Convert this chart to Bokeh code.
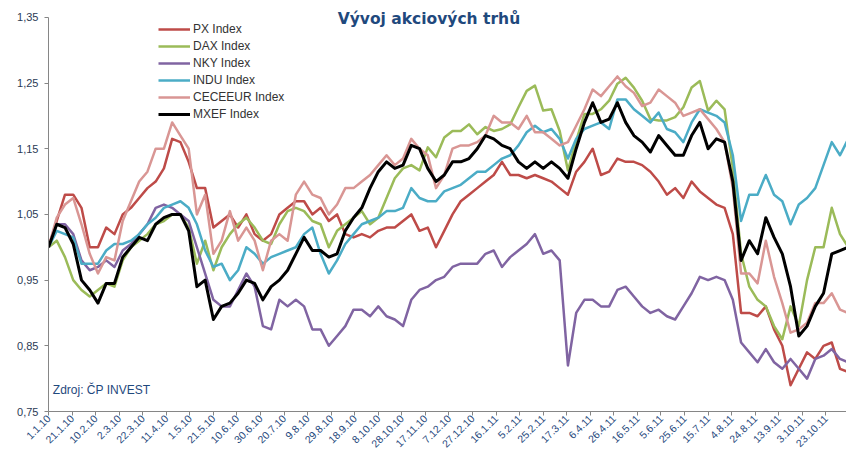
from datetime import date
from math import pi
from bokeh.plotting import figure
from bokeh.models import (FixedTicker, CustomJSTickFormatter, Legend, LegendItem,
                          Label, Range1d)
from bokeh.embed import file_html
from bokeh.resources import INLINE

# ---------------- data (weekly samples, start = 1.1.2010) ----------------
start = date(2010, 1, 1)
sample_step_days = 7

px = [1.00, 1.04, 1.08, 1.08, 1.06, 1.00, 1.00, 1.03, 1.02, 1.05,
      1.06, 1.075, 1.09, 1.10, 1.12, 1.165, 1.16, 1.13, 1.09, 1.09,
      1.03, 1.04, 1.05, 1.03, 1.05, 1.02, 1.01, 1.02, 1.05, 1.06,
      1.07, 1.07, 1.05, 1.06, 1.04, 1.05, 1.02, 1.015, 1.02, 1.015,
      1.025, 1.03, 1.03, 1.04, 1.05, 1.025, 1.03, 1.00, 1.025, 1.05,
      1.07, 1.08, 1.09, 1.10, 1.11, 1.13, 1.11, 1.11, 1.105, 1.11,
      1.105, 1.10, 1.09, 1.08, 1.115, 1.13, 1.15, 1.11, 1.115, 1.135,
      1.13, 1.13, 1.125, 1.115, 1.10, 1.08, 1.09, 1.075, 1.10, 1.085,
      1.075, 1.065, 1.06, 1.02, 0.90, 0.90, 0.895, 0.91, 0.875, 0.85,
      0.79, 0.815, 0.84, 0.83, 0.85, 0.855, 0.815, 0.81]

dax = [1.00, 1.01, 0.985, 0.95, 0.935, 0.925, 0.935, 0.945, 0.94, 0.98,
       1.00, 1.01, 1.02, 1.035, 1.04, 1.05, 1.05, 1.03, 0.975, 1.01,
       0.965, 1.00, 1.02, 1.035, 1.045, 1.03, 1.01, 1.005, 1.035, 1.055,
       1.06, 1.055, 1.04, 1.035, 1.00, 1.025, 1.035, 1.045, 1.055, 1.035,
       1.045, 1.075, 1.105, 1.12, 1.125, 1.117, 1.152, 1.137, 1.167, 1.177,
       1.177, 1.187, 1.172, 1.183, 1.177, 1.18, 1.187, 1.213, 1.238, 1.246,
       1.208, 1.21, 1.177, 1.117, 1.162, 1.203, 1.203, 1.21, 1.223, 1.249,
       1.258, 1.243, 1.223, 1.195, 1.193, 1.193, 1.198, 1.213, 1.243, 1.253,
       1.208, 1.223, 1.21, 1.12, 0.99, 0.94, 0.92, 0.91, 0.88, 0.86,
       0.91, 0.88, 0.95, 1.00, 1.00, 1.06, 1.02, 1.00]

nky = [1.00, 1.035, 1.035, 1.02, 0.98, 0.965, 0.97, 0.98, 0.97, 0.995,
       1.005, 1.02, 1.035, 1.06, 1.065, 1.06, 1.05, 1.04, 1.00, 0.96,
       0.92, 0.91, 0.91, 0.935, 0.96, 0.94, 0.88, 0.875, 0.92, 0.91,
       0.92, 0.91, 0.875, 0.875, 0.85, 0.865, 0.88, 0.905, 0.905, 0.895,
       0.91, 0.895, 0.89, 0.88, 0.92, 0.935, 0.94, 0.95, 0.955, 0.97,
       0.975, 0.975, 0.975, 0.99, 0.995, 0.97, 0.985, 0.995, 1.005, 1.02,
       0.99, 0.995, 0.98, 0.82, 0.90, 0.92, 0.92, 0.91, 0.91, 0.935,
       0.94, 0.925, 0.91, 0.90, 0.905, 0.895, 0.89, 0.91, 0.93, 0.955,
       0.95, 0.955, 0.95, 0.92, 0.855, 0.84, 0.825, 0.845, 0.825, 0.815,
       0.83, 0.815, 0.80, 0.83, 0.835, 0.845, 0.83, 0.825]

indu = [1.00, 1.025, 1.02, 1.015, 0.975, 0.975, 0.975, 0.995, 1.005, 1.005,
        1.01, 1.02, 1.035, 1.045, 1.06, 1.065, 1.07, 1.06, 1.035, 0.995,
        0.97, 0.975, 0.95, 0.965, 1.00, 0.99, 0.975, 0.985, 0.99, 0.995,
        1.00, 1.02, 1.03, 0.99, 0.96, 0.98, 1.005, 1.02, 1.035, 1.04,
        1.045, 1.055, 1.055, 1.06, 1.09, 1.075, 1.07, 1.07, 1.085, 1.09,
        1.095, 1.105, 1.115, 1.115, 1.125, 1.135, 1.14, 1.155, 1.175, 1.185,
        1.175, 1.18, 1.165, 1.135, 1.165, 1.18, 1.185, 1.19, 1.18, 1.225,
        1.225, 1.21, 1.20, 1.19, 1.205, 1.18, 1.175, 1.16, 1.19, 1.21,
        1.205, 1.20, 1.19, 1.14, 1.04, 1.08, 1.08, 1.11, 1.08, 1.07,
        1.035, 1.065, 1.075, 1.09, 1.125, 1.16, 1.14, 1.165]

ceceeur = [1.00, 1.045, 1.065, 1.075, 1.035, 0.99, 0.96, 0.985, 0.98, 1.04,
           1.07, 1.10, 1.115, 1.15, 1.15, 1.19, 1.17, 1.15, 1.05, 1.08,
           0.99, 1.01, 1.055, 1.01, 1.03, 1.01, 0.965, 1.01, 1.02, 1.01,
           1.08, 1.10, 1.08, 1.075, 1.05, 1.065, 1.09, 1.09, 1.10, 1.11,
           1.125, 1.14, 1.125, 1.135, 1.165, 1.15, 1.14, 1.09, 1.11, 1.15,
           1.155, 1.155, 1.16, 1.17, 1.20, 1.19, 1.19, 1.18, 1.20, 1.175,
           1.175, 1.165, 1.155, 1.16, 1.185, 1.21, 1.24, 1.23, 1.245, 1.26,
           1.245, 1.235, 1.215, 1.22, 1.24, 1.23, 1.22, 1.20, 1.205, 1.21,
           1.195, 1.18, 1.16, 1.09, 0.96, 0.96, 0.945, 1.01, 0.955, 0.915,
           0.87, 0.875, 0.885, 0.915, 0.915, 0.93, 0.905, 0.90]

mxef = [1.00, 1.035, 1.03, 1.005, 0.95, 0.935, 0.915, 0.945, 0.945, 0.985,
        1.00, 1.015, 1.01, 1.035, 1.045, 1.05, 1.05, 1.025, 0.94, 0.95,
        0.89, 0.91, 0.915, 0.93, 0.95, 0.945, 0.92, 0.94, 0.95, 0.965,
        0.99, 1.015, 0.995, 0.995, 0.985, 0.99, 1.025, 1.045, 1.06, 1.09,
        1.115, 1.13, 1.12, 1.125, 1.155, 1.15, 1.12, 1.10, 1.11, 1.13,
        1.13, 1.135, 1.15, 1.17, 1.165, 1.155, 1.15, 1.13, 1.12, 1.13,
        1.12, 1.13, 1.12, 1.105, 1.15, 1.19, 1.22, 1.19, 1.195, 1.22,
        1.19, 1.17, 1.16, 1.145, 1.17, 1.155, 1.14, 1.14, 1.17, 1.19,
        1.15, 1.165, 1.16, 1.10, 0.98, 1.01, 0.99, 1.045, 1.015, 0.99,
        0.94, 0.865, 0.88, 0.91, 0.93, 0.99, 0.995, 1.00]

series_names = ["PX Index", "DAX Index", "NKY Index", "INDU Index",
                "CECEEUR Index", "MXEF Index"]
series_values = [px, dax, nky, indu, ceceeur, mxef]

tick_labels = ["1.1.10", "21.1.10", "10.2.10", "2.3.10", "22.3.10", "11.4.10",
               "1.5.10", "21.5.10", "10.6.10", "30.6.10", "20.7.10", "9.8.10",
               "29.8.10", "18.9.10", "8.10.10", "28.10.10", "17.11.10", "7.12.10",
               "27.12.10", "16.1.11", "5.2.11", "25.2.11", "17.3.11", "6.4.11",
               "26.4.11", "16.5.11", "5.6.11", "25.6.11", "15.7.11", "4.8.11",
               "24.8.11", "13.9.11", "3.10.11", "23.10.11"]
y_ticks = [0.75, 0.85, 0.95, 1.05, 1.15, 1.25, 1.35]

# ---------------- style ----------------
colors = ["#BE4B48", "#9BBB59", "#8064A2", "#4BACC6", "#D99694", "#000000"]
widths = [2.5, 2.5, 2.5, 2.5, 2.5, 3.0]
FONT = "Liberation Sans"
BLUE = "#1F497D"


def label_to_day(lbl):
    d, m, y = (int(v) for v in lbl.split("."))
    return (date(2000 + y, m, d) - start).days


tick_days = [label_to_day(t) for t in tick_labels]
x_days = [i * sample_step_days for i in range(len(px))]

# frame reaches to the very top so the title (partly inside the frame) is not clipped
y_top = 0.75 + 411 / 657.0
p = figure(width=846, height=457, output_backend="svg", toolbar_location=None,
           x_range=Range1d(0, 677.5), y_range=Range1d(0.75, y_top),
           min_border_left=48, min_border_right=0, min_border_top=0,
           min_border_bottom=46)
p.outline_line_color = None
p.grid.visible = False
p.background_fill_color = "white"
p.border_fill_color = "white"

renderers = []
for vals, c, w in zip(series_values, colors, widths):
    r = p.line(x_days, vals, line_color=c, line_width=w, line_join="round")
    renderers.append(r)

# axes
xa = p.xaxis[0]
xa.ticker = FixedTicker(ticks=tick_days)
xa.major_label_overrides = {d: t for d, t in zip(tick_days, tick_labels)}
xa.major_label_orientation = pi / 4
xa.major_label_text_font = FONT
xa.major_label_text_font_size = "10.5px"
xa.major_label_text_color = BLUE
xa.major_label_standoff = 1
xa.major_tick_in = 0
xa.major_tick_out = 4
xa.minor_tick_line_color = None
xa.axis_line_color = "#868686"
xa.major_tick_line_color = "#868686"

ya = p.yaxis[0]
ya.ticker = FixedTicker(ticks=y_ticks)
ya.bounds = (y_ticks[0], y_ticks[-1])
ya.formatter = CustomJSTickFormatter(code="return tick.toFixed(2).replace('.', ',');")
ya.major_label_text_font = FONT
ya.major_label_text_font_size = "11px"
ya.major_label_text_color = "#2B3A55"
ya.major_label_standoff = 6
ya.major_tick_in = 0
ya.major_tick_out = 4
ya.minor_tick_line_color = None
ya.axis_line_color = "#868686"
ya.major_tick_line_color = "#868686"

legend = Legend(items=[LegendItem(label=n, renderers=[r])
                       for n, r in zip(series_names, renderers)],
                location=(110, 289), orientation="vertical",
                padding=0, margin=0, spacing=1,
                glyph_height=16, glyph_width=32, label_height=16,
                label_standoff=3, label_text_font=FONT,
                label_text_font_size="12px", label_text_color="#333333",
                border_line_color=None, background_fill_alpha=0)
p.add_layout(legend)

p.add_layout(Label(x=323, y=1.348, text="Vývoj akciových trhů",
                   text_align="center", text_baseline="middle",
                   text_font="DejaVu Sans", text_font_style="bold",
                   text_font_size="15.5px", text_color=BLUE))
p.add_layout(Label(x=3.7, y=0.782, text="Zdroj: ČP INVEST",
                   text_align="left", text_baseline="middle",
                   text_font=FONT, text_font_size="12px", text_color=BLUE))

open("out.html", "w").write(file_html(p, INLINE))
